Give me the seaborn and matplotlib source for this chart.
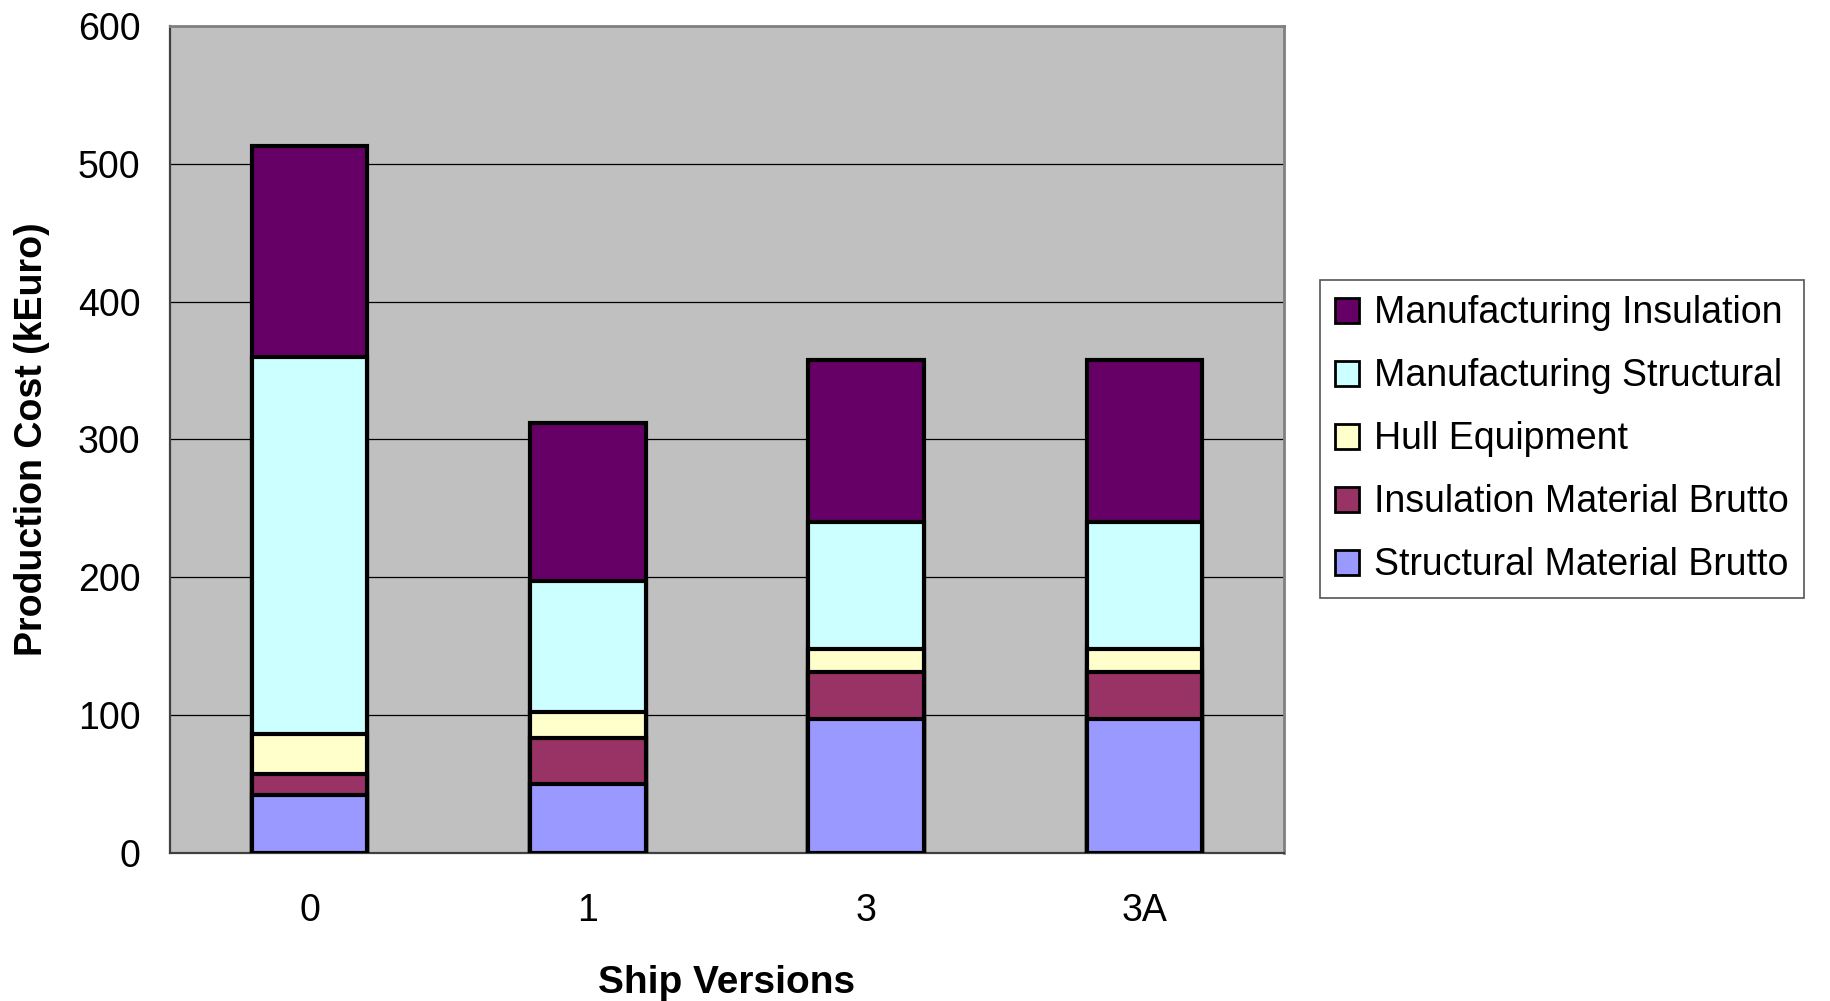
import matplotlib
matplotlib.use("Agg")
import matplotlib.pyplot as plt
from matplotlib.patches import Patch
import seaborn as sns
import numpy as np
import pandas as pd

versions = ["0", "1", "3", "3A"]
structural_material = [42, 50, 97, 97]
insulation_material = [15, 33, 34, 34]
hull_equipment = [29, 19, 17, 17]
manufacturing_structural = [274, 95, 92, 92]
manufacturing_insulation = [153, 115, 118, 118]

series_names = ["Structural Material Brutto", "Insulation Material Brutto",
                "Hull Equipment", "Manufacturing Structural", "Manufacturing Insulation"]
series_values = [structural_material, insulation_material, hull_equipment,
                 manufacturing_structural, manufacturing_insulation]
colors = ["#9999FF", "#993366", "#FFFFCC", "#CCFFFF", "#660066"]

sns.set_style("white")
plt.rcParams["font.family"] = ["Liberation Sans", "DejaVu Sans"]
plt.rcParams["text.color"] = "black"
plt.rcParams["axes.labelcolor"] = "black"
plt.rcParams["xtick.color"] = "black"
plt.rcParams["ytick.color"] = "black"

fig = plt.figure(figsize=(18.31, 10.01), dpi=100)
ax = fig.add_axes([0.093, 0.148, 0.608, 0.826])
ax.set_facecolor("#C0C0C0")

# stacked bars: draw cumulative totals from the top series down
cum = np.cumsum(np.array(series_values), axis=0)
for i in range(len(series_names) - 1, -1, -1):
    df = pd.DataFrame({"version": versions, "value": cum[i]})
    sns.barplot(data=df, x="version", y="value", color=colors[i], width=0.415,
                edgecolor="black", linewidth=3, saturation=1, ax=ax, zorder=3)

ax.set_xlim(-0.5, 3.5)
ax.set_ylim(0, 600)
ax.set_yticks(range(0, 601, 100))
ax.yaxis.grid(True, color="black", lw=0.9)
ax.set_axisbelow(True)

ax.set_xticks([-0.5, 0.5, 1.5, 2.5, 3.5])
ax.set_xticklabels([])
ax.set_xticks(range(len(versions)), minor=True)
ax.set_xticklabels(versions, minor=True)
ax.tick_params(axis="x", which="major", direction="out", length=8, width=1.2, color="#333333")
ax.tick_params(axis="x", which="minor", length=0, pad=29, labelsize=27)
ax.tick_params(axis="y", direction="out", length=8.6, width=1.2, color="#333333", pad=13, labelsize=27)

for side in ["top", "right"]:
    ax.spines[side].set_color("#808080")
    ax.spines[side].set_linewidth(2)
for side in ["left", "bottom"]:
    ax.spines[side].set_color("#404040")
    ax.spines[side].set_linewidth(1.6)

ax.set_xlabel("Ship Versions", fontsize=28, fontweight="bold")
ax.set_ylabel("Production Cost (kEuro)", fontsize=27, fontweight="bold")
ax.xaxis.set_label_coords(0.5, -0.136)
ax.yaxis.set_label_coords(-0.108, 0.5)

handles = [Patch(facecolor=colors[i], edgecolor="black", linewidth=2, label=series_names[i])
           for i in range(len(series_names) - 1, -1, -1)]
leg = fig.legend(handles=handles, loc="center left", bbox_to_anchor=(0.7207, 0.561),
                 bbox_transform=fig.transFigure, fontsize=27, frameon=True, fancybox=False,
                 framealpha=1, edgecolor="#555555", handlelength=0.65, handleheight=0.65,
                 handletextpad=0.4, labelspacing=0.72, borderpad=0.4, borderaxespad=0)
leg.get_frame().set_linewidth(1.2)

fig.savefig("out.png", dpi=100, facecolor="white")
